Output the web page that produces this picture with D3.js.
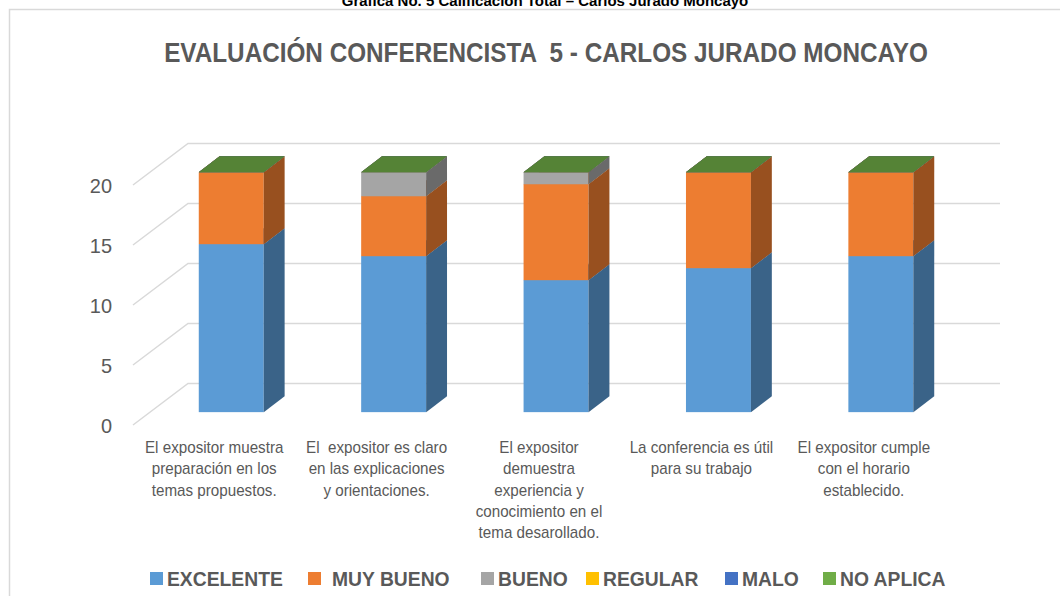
<!DOCTYPE html>
<html>
<head>
<meta charset="utf-8">
<script src="https://cdn.jsdelivr.net/npm/d3@7/dist/d3.min.js"></script>
<style>
  html, body { margin: 0; padding: 0; background: #fff; }
  svg { display: block; }
</style>
</head>
<body>
<div id="chart"></div>
<script>
// Datos de la gráfica
const categories = [
    ['El expositor muestra', 'preparación en los', 'temas propuestos.'],
    ['El  expositor es claro', 'en las explicaciones', 'y orientaciones.'],
    ['El expositor', 'demuestra', 'experiencia y', 'conocimiento en el', 'tema desarollado.'],
    ['La conferencia es útil', 'para su trabajo'],
    ['El expositor cumple', 'con el horario', 'establecido.']
];
const seriesNames = ['EXCELENTE', 'MUY BUENO', 'BUENO', 'REGULAR', 'MALO', 'NO APLICA'];
const seriesColors = ['#5B9BD5', '#ED7D31', '#A5A5A5', '#FFC000', '#4472C4', '#70AD47'];
const excelente = [14, 13, 11, 12, 13];
const muyBueno = [6, 5, 8, 8, 7];
const bueno = [0, 2, 1, 0, 0];
const regular = [0, 0, 0, 0, 0];
const malo = [0, 0, 0, 0, 0];
const noAplica = [0, 0, 0, 0, 0];
const yTicks = [0, 5, 10, 15, 20];

const chartTitle = 'EVALUACIÓN CONFERENCISTA  5 - CARLOS JURADO MONCAYO';
const caption = 'Gráfica No. 5 Calificación Total – Carlos Jurado Moncayo';

const width = 1060, height = 596;
// No hay Arial Narrow: se comprime horizontalmente Liberation Sans
const font = '"Liberation Sans", Arial, sans-serif';
const textColor = '#595959';

// Profundidad de la vista 3D (desplazamiento del plano frontal al fondo)
const depth = { dx: 55, dy: -41.5 };
const barFront = 0.31, barBack = 0.69;

const svg = d3.select('#chart').append('svg')
    .attr('width', width)
    .attr('height', height);

// texto comprimido en x
function narrowText(parent, x, y, sx) {
    return parent.append('text')
        .attr('transform', 'translate(' + x + ',' + y + ') scale(' + sx + ',1)')
        .style('font-family', font);
}

// Borde del área del gráfico
svg.append('path')
    .attr('d', 'M9.5,' + height + 'V9.5H' + width)
    .attr('fill', 'none')
    .attr('stroke', '#D9D9D9')
    .attr('stroke-width', 1.5);

// Leyenda superior (cortada en el original)
narrowText(svg, 545, 6, 1)
    .attr('text-anchor', 'middle')
    .style('font-weight', 'bold')
    .style('font-size', '15px')
    .attr('fill', '#000')
    .text(caption);

// Titulo
narrowText(svg, 546, 62, 0.9)
    .attr('text-anchor', 'middle')
    .style('font-weight', 'bold')
    .style('font-size', '27px')
    .attr('fill', textColor)
    .attr('xml:space', 'preserve')
    .text(chartTitle);

// Escalas (plano frontal)
const xScale = d3.scaleBand()
    .domain(d3.range(categories.length))
    .range([133, 945])
    .paddingInner(0)
    .paddingOuter(0);
const yScale = d3.scaleLinear()
    .domain([0, 20])
    .range([425, 185]);

// Cuadrícula: diagonal de la pared lateral + linea horizontal del fondo
const grid = svg.append('g').attr('class', 'grid');
yTicks.forEach(t => {
    const y0 = yScale(t);
    grid.append('path')
        .attr('d', 'M' + xScale.range()[0] + ',' + y0
            + 'L' + (xScale.range()[0] + depth.dx) + ',' + (y0 + depth.dy)
            + 'H' + (xScale.range()[1] + depth.dx))
        .attr('fill', 'none')
        .attr('stroke', '#D9D9D9')
        .attr('stroke-width', 1.5);
});

// Eje Y
const yAxis = svg.append('g').attr('class', 'y-axis');
yTicks.forEach(d => {
    narrowText(yAxis, 112, yScale(d), 0.95)
        .attr('dy', '0.36em')
        .attr('text-anchor', 'end')
        .style('font-size', '21px')
        .attr('fill', textColor)
        .text(d);
});

// Barras apiladas 3D
const seriesValues = [excelente, muyBueno, bueno, regular, malo, noAplica];
const stackData = categories.map((c, i) => {
    const row = { i: i };
    seriesNames.forEach((s, k) => { row[s] = seriesValues[k][i]; });
    return row;
});
const stacked = d3.stack().keys(seriesNames)(stackData);

function shade(color, f) {
    const c = d3.rgb(color);
    return d3.rgb(c.r * f, c.g * f, c.b * f).formatHex();
}

const bw = xScale.bandwidth() * 0.4;
const fdx = depth.dx * barFront, fdy = depth.dy * barFront;
const bdx = depth.dx * (barBack - barFront), bdy = depth.dy * (barBack - barFront);

const bars = svg.append('g').attr('class', 'bars');
stacked.forEach((layer, k) => {
    const color = seriesColors[k];
    layer.forEach((seg, i) => {
        const x0 = xScale(i) + xScale.bandwidth() / 2 - bw / 2 + fdx;
        const x1 = x0 + bw;
        const yb = yScale(seg[0]) + fdy;
        const yt = yScale(seg[1]) + fdy;
        const g = bars.append('g');
        if (seg[1] - seg[0] > 0) {
            g.append('rect')
                .attr('x', x0).attr('y', yt)
                .attr('width', bw).attr('height', yb - yt)
                .attr('fill', color);
            g.append('path')
                .attr('d', 'M' + x1 + ',' + yb + 'L' + (x1 + bdx) + ',' + (yb + bdy)
                    + 'L' + (x1 + bdx) + ',' + (yt + bdy) + 'L' + x1 + ',' + yt + 'Z')
                .attr('fill', shade(color, 0.64));
        }
        g.append('path')
            .attr('d', 'M' + x0 + ',' + yt + 'L' + x1 + ',' + yt
                + 'L' + (x1 + bdx) + ',' + (yt + bdy) + 'L' + (x0 + bdx) + ',' + (yt + bdy) + 'Z')
            .attr('fill', shade(color, 0.76));
    });
});

// Etiquetas de categoría
const catLabels = svg.append('g').attr('class', 'categories');
categories.forEach((lines, i) => {
    const t = narrowText(catLabels, xScale(i) + xScale.bandwidth() / 2, 453, 0.95)
        .attr('text-anchor', 'middle')
        .style('font-size', '16px')
        .attr('fill', textColor)
        .attr('xml:space', 'preserve');
    lines.forEach((line, j) => {
        t.append('tspan')
            .attr('x', 0)
            .attr('y', j * 21.3)
            .text(line);
    });
});

// Leyenda
const legendX = [150, 308, 481, 586, 725, 823];
const legend = svg.append('g').attr('class', 'legend');
seriesNames.forEach((name, k) => {
    legend.append('rect')
        .attr('x', legendX[k]).attr('y', 572)
        .attr('width', 13).attr('height', 13)
        .attr('fill', seriesColors[k]);
    narrowText(legend, legendX[k] + 17 + (k === 1 ? 7 : 0), 586, 0.92)
        .style('font-weight', 'bold')
        .style('font-size', '21px')
        .attr('fill', textColor)
        .text(name);
});
</script>
</body>
</html>
